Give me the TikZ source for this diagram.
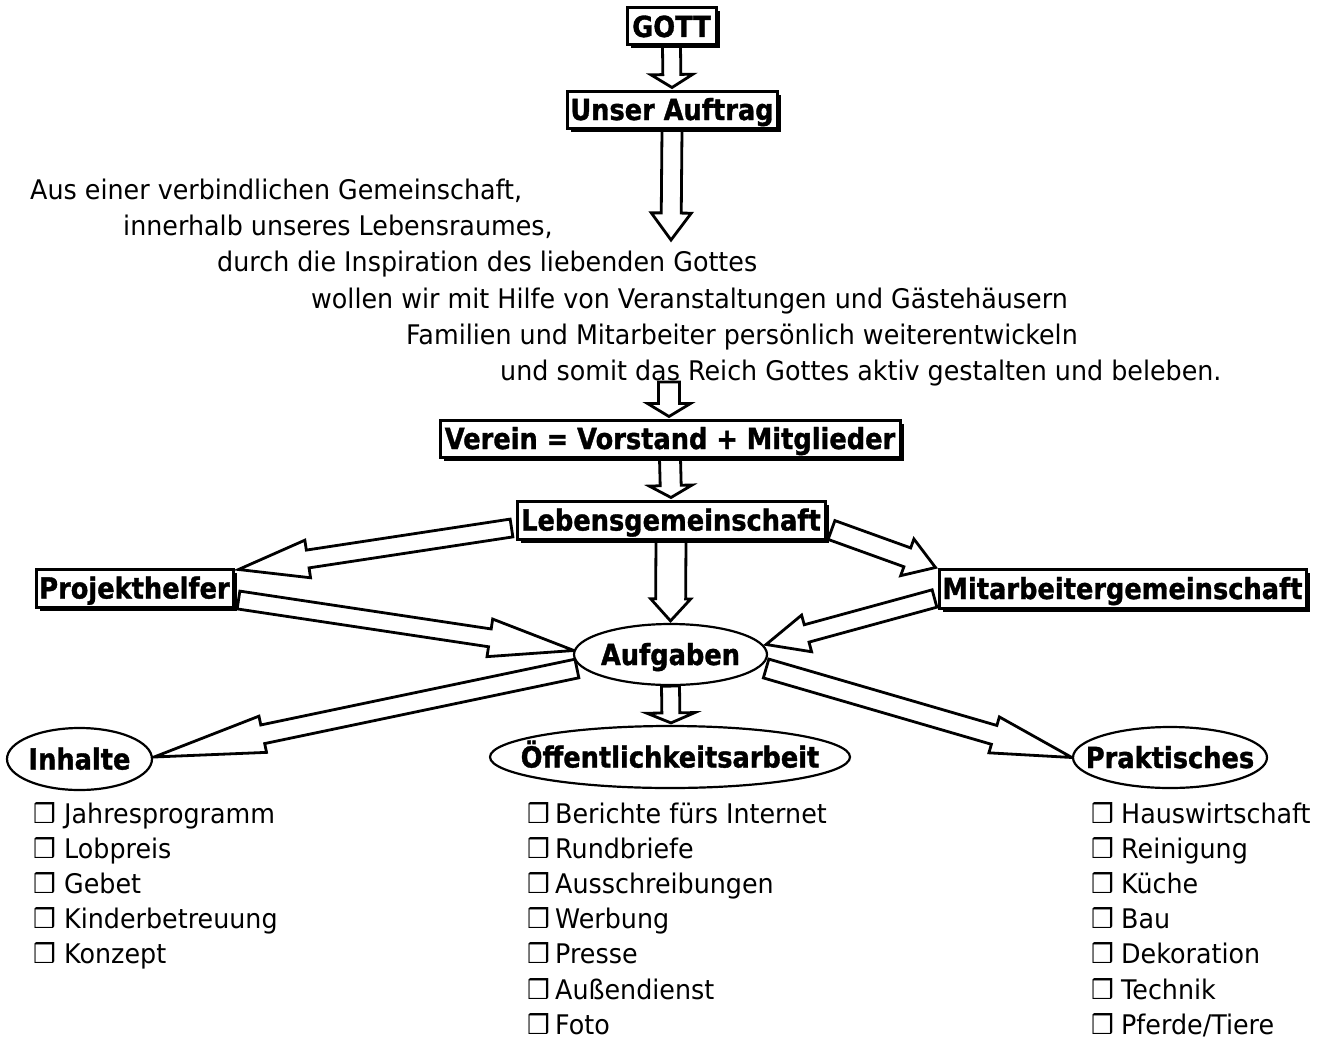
\documentclass[tikz,border=0pt]{standalone}
\usepackage{fontspec}
\setmainfont{DejaVu Sans}[FakeStretch=0.94]
\newfontfamily\bfont{DejaVu Sans}[FakeStretch=0.885, BoldFeatures={FakeBold=1.2}]
\usetikzlibrary{calc,shadows,shapes.geometric}
\pgfdeclarelayer{bg}
\pgfsetlayers{bg,main}
\newcommand\myblockarrow[5]{%
  \coordinate (bah) at ($(#2)!#5!(#1)$);
  \draw[barrow] ($(#1)!#3!90:(#2)$) -- ($(bah)!#3!-90:(#1)$) -- ($(bah)!#4!-90:(#1)$) -- (#2)
    -- ($(bah)!#4!90:(#1)$) -- ($(bah)!#3!90:(#1)$) -- ($(#1)!#3!-90:(#2)$) -- cycle;}
\tikzset{
  bfnt/.style={font=\bfont\bfseries\fontsize{29}{32}\selectfont},
  box/.style={draw, line width=3pt, fill=white, inner sep=0pt, bfnt,
    text height=21pt, text depth=0pt,
    drop shadow={shadow xshift=3.5pt, shadow yshift=-3.5pt, fill=black, opacity=1}},
  oval/.style={ellipse, draw, line width=2.2pt, fill=white, inner sep=0pt},
  ovallabel/.style={bfnt, text height=21pt, text depth=0pt, inner sep=0pt},
  barrow/.style={draw, line width=2.8pt, fill=white, line join=miter, miter limit=20},
  txt/.style={anchor=base west, inner sep=0pt, font=\fontsize{27}{30}\selectfont},
}
\begin{document}
\begin{tikzpicture}[x=1pt,y=-1pt]
\begin{pgfonlayer}{bg}
\fill[white] (0,0) rectangle (1327,1041);
\end{pgfonlayer}
\useasboundingbox (0,0) rectangle (1327,1041);

\node[box, minimum width=89pt, minimum height=37pt] (gott) at (671.5,26.5) {GOTT};
\node[box, minimum width=210pt, minimum height=37pt] (ua) at (672,109.5) {Unser Auftrag};

% mission text
\node[txt] (t1) at (30,199) {Aus einer verbindlichen Gemeinschaft,};
\node[txt] (t2) at (123,235.5) {innerhalb unseres Lebensraumes,};
\node[txt] (t3) at (217,271.5) {durch die Inspiration des liebenden Gottes};
\node[txt] (t4) at (311,308) {wollen wir mit Hilfe von Veranstaltungen und Gästehäusern};
\node[txt] (t5) at (406,344) {Familien und Mitarbeiter persönlich weiterentwickeln};
\node[txt] (t6) at (500,380) {und somit das Reich Gottes aktiv gestalten und beleben.};

\coordinate (uatip) at (671,240);
\coordinate (vtail) at (669,382);

\node[box, minimum width=460pt, minimum height=37pt] (verein) at (670,438.5) {Verein = Vorstand + Mitglieder};
\node[box, minimum width=308pt, minimum height=38pt] (leb) at (671,520) {Lebensgemeinschaft};
\node[box, minimum width=197pt, minimum height=38pt] (proj) at (134.5,588) {Projekthelfer};
\node[box, minimum width=367pt, minimum height=39pt] (mit) at (1122.5,588.5) {Mitarbeitergemeinschaft};

\node[oval, minimum width=193pt, minimum height=61pt] (auf) at (670.5,654.5) {};
\node[oval, minimum width=360pt, minimum height=62pt] (oeff) at (670,757) {};
\node[oval, minimum width=145pt, minimum height=62pt] (inh) at (79.5,759) {};
\node[oval, minimum width=194pt, minimum height=61pt] (prak) at (1170,757.5) {};
\node[ovallabel] (aufl) at (auf.center) {Aufgaben};
\node[ovallabel] (oeffl) at (oeff.center) {Öffentlichkeitsarbeit};
\node[ovallabel] (inhl) at (inh.center) {Inhalte};
\node[ovallabel] (prakl) at (prak.center) {Praktisches};

% arrows on the background layer, so that tails sit under node borders
\begin{pgfonlayer}{bg}
\myblockarrow{gott.south}{$(ua.north)+(0,-2)$}{9pt}{21pt}{13pt}
\myblockarrow{ua.south}{uatip}{10pt}{20pt}{27pt}
\myblockarrow{vtail}{$(verein.north)+(-1,-2)$}{10.5pt}{21.5pt}{13pt}
\myblockarrow{verein.south}{$(leb.north)+(0,-2)$}{10.5pt}{21.5pt}{12pt}
\myblockarrow{leb.south}{$(auf.north)+(0,-2)$}{15pt}{20pt}{22pt}
\myblockarrow{auf.south}{$(oeff.north)+(1,-2)$}{9pt}{24pt}{10pt}
\myblockarrow{$(leb.west)+(-4,8)$}{$(proj.north east)+(4,2)$}{9pt}{19pt}{70pt}
\myblockarrow{$(proj.east)+(4,12)$}{$(auf.west)+(1,-4)$}{9pt}{19pt}{85pt}
\myblockarrow{$(leb.east)+(5,10)$}{$(mit.north west)+(-2,0)$}{10pt}{19.5pt}{30pt}
\myblockarrow{$(mit.west)+(-3,10)$}{$(auf.east)+(-2,-10)$}{9pt}{19pt}{42pt}
\myblockarrow{$(auf.west)+(4,14)$}{$(inh.east)+(1,-2)$}{9.5pt}{18.5pt}{111pt}
\myblockarrow{$(auf.east)+(-2,14)$}{prak.west}{9.8pt}{18.7pt}{81pt}
\end{pgfonlayer}

% lists
\foreach \t [count=\i] in {Jahresprogramm,Lobpreis,Gebet,Kinderbetreuung,Konzept}
  \node[txt] (l\i) at (33,{823+35.2*(\i-1)}) {\makebox[31pt][l]{❒}\t};
\foreach \t [count=\i] in {Berichte fürs Internet,Rundbriefe,Ausschreibungen,Werbung,Presse,Außendienst,Foto}
  \node[txt] (m\i) at (527,{823+35.2*(\i-1)}) {\makebox[28pt][l]{❒}\t};
\foreach \t [count=\i] in {Hauswirtschaft,Reinigung,Küche,Bau,Dekoration,Technik,Pferde/Tiere}
  \node[txt] (r\i) at (1091,{823+35.2*(\i-1)}) {\makebox[30pt][l]{❒}\t};
\end{tikzpicture}
\end{document}
